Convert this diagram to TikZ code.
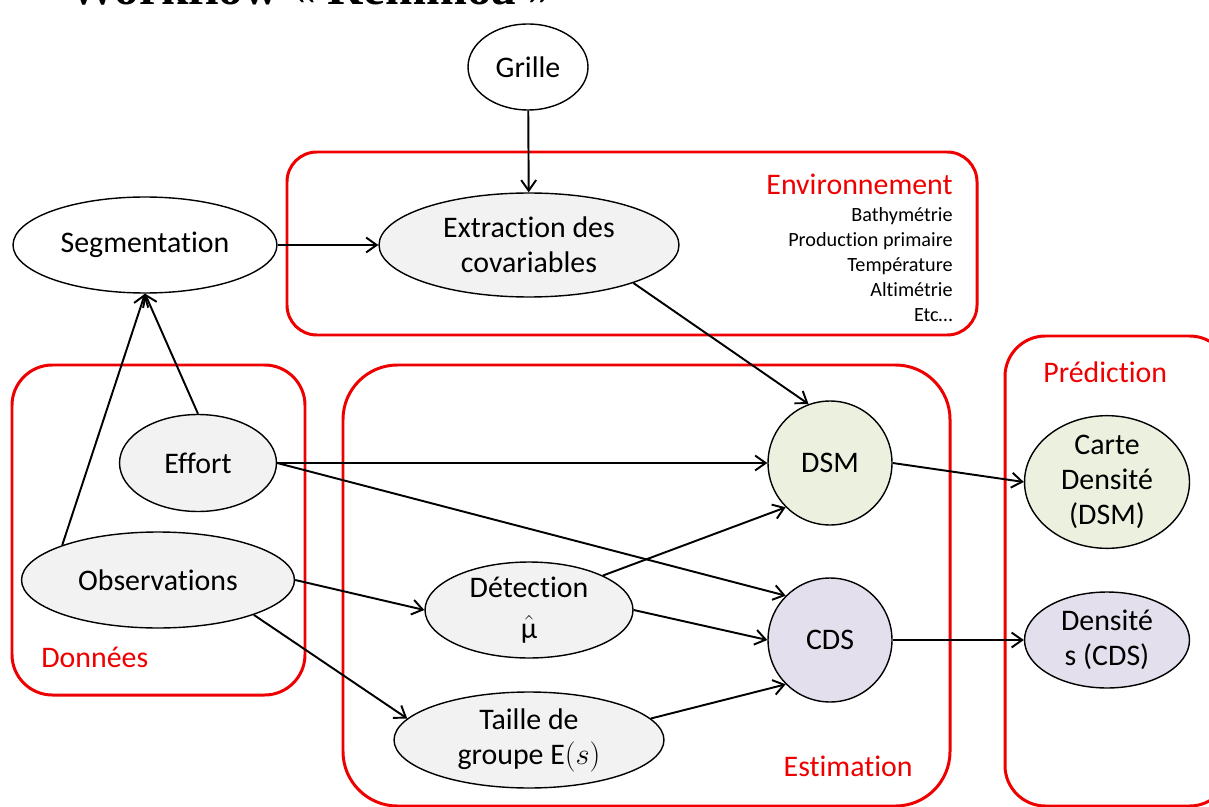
\documentclass[tikz,border=0pt]{standalone}
\usepackage{amsmath}
\usepackage{fontspec}
\setmainfont{Carlito}[Ligatures=NoCommon]
\newfontfamily\titlefont{Liberation Serif}
\usetikzlibrary{shapes.geometric,arrows.meta}

\definecolor{obsgray}{HTML}{F2F2F2}
\definecolor{dsmgreen}{HTML}{EBF1DE}
\definecolor{cdspurple}{HTML}{E4DFEC}
\definecolor{boxred}{HTML}{EE0000}

\begin{document}
\begin{tikzpicture}[x=0.02cm,y=-0.02cm,
    box/.style={draw=boxred, line width=1.7pt},
    lbl/.style={text=boxred, inner sep=0pt, font=\fontsize{17}{20}\selectfont},
    oval/.style={ellipse, draw, line width=0.8pt, inner sep=0pt, align=center, font=\fontsize{17}{20}\selectfont},
    flow/.style={-{Straight Barb[length=6pt,width=8.5pt]}, line width=1.1pt}]
	\useasboundingbox (0,0) rectangle (1209,807);
	
	% title, cut by the top edge
	\node[anchor=base west, inner sep=0pt, font=\titlefont\bfseries\fontsize{28}{30}\selectfont] (title) at (68,5) {Workflow « Remmoa »};
	
	% groups
	\draw[box, rounded corners=17pt] (287,152) rectangle (977,335);
	\draw[box, rounded corners=23pt] (12,365) rectangle (305,695);
	\draw[box, rounded corners=31pt] (343,365) rectangle (950,806);
	\draw[box, rounded corners=23pt] (1005,336) rectangle (1230,806);
	
	\node[lbl, anchor=base east] (envlbl) at (953,195) {Environnement};
	\node[anchor=north east, inner sep=0pt, align=right, font=\fontsize{11.5}{14.2}\selectfont] (envlist) at (953,207) {Bathymétrie\\ Production primaire\\ Température\\ Altimétrie\\ Etc…};
	\node[lbl, anchor=base west] (donlbl) at (41,667) {Données};
	\node[lbl, anchor=base east] (estlbl) at (913,776) {Estimation};
	\node[lbl, anchor=base west] (predlbl) at (1043,382) {Prédiction};
	
	% nodes
	\node[oval, fill=white, minimum width=2.4cm, minimum height=1.72cm] (grille) at (528,67) {Grille};
	\node[oval, fill=obsgray, minimum width=6cm, minimum height=2.08cm] (ext) at (529,245) {Extraction des\\ covariables};
	\node[oval, fill=white, minimum width=5.28cm, minimum height=1.92cm] (seg) at (145,245) {Segmentation};
	\node[oval, fill=obsgray, minimum width=3.14cm, minimum height=1.94cm] (eff) at (198,463) {Effort};
	\node[oval, fill=obsgray, minimum width=5.46cm, minimum height=1.92cm] (obs) at (158,580) {Observations};
	\node[oval, fill=obsgray, minimum width=4.16cm, minimum height=1.92cm] (det) at (529,610) {Détection\\[3pt] $\hat{\text{μ}}$};
	\node[oval, fill=obsgray, minimum width=5.4cm, minimum height=1.92cm] (tail) at (529,740) {Taille de\\ groupe $\mathrm{E}(s)$};
	\node[oval, circle, fill=dsmgreen, minimum size=2.48cm] (dsm) at (830,463) {DSM};
	\node[oval, circle, fill=cdspurple, minimum size=2.48cm] (cds) at (830,640) {CDS};
	\node[oval, fill=dsmgreen, minimum width=3.3cm, minimum height=2.6cm] (carte) at (1107,482) {Carte\\ Densité\\ (DSM)};
	\node[oval, fill=cdspurple, minimum width=3.3cm, minimum height=1.92cm] (dens) at (1107,640) {Densité\\ s (CDS)};
	
	% connectors
	\draw[flow] (grille) -- (ext);
	\draw[flow] (seg) -- (ext);
	\draw[flow] (ext.-20) -- (dsm.110);
	\draw[flow] (eff.north) -- (seg.south);
	\draw[flow] (obs.160) -- (seg.south);
	\draw[flow] (eff) -- (dsm);
	\draw[flow] (eff.east) -- (cds.135);
	\draw[flow] (obs.east) -- (det.west);
	\draw[flow] (obs.-20) -- (tail.170);
	\draw[flow] (det.25) -- (dsm.225);
	\draw[flow] (det.east) -- (cds.west);
	\draw[flow] (tail.10) -- (cds.225);
	\draw[flow] (dsm.east) -- (carte.west);
	\draw[flow] (cds) -- (dens);
\end{tikzpicture}
\end{document}
